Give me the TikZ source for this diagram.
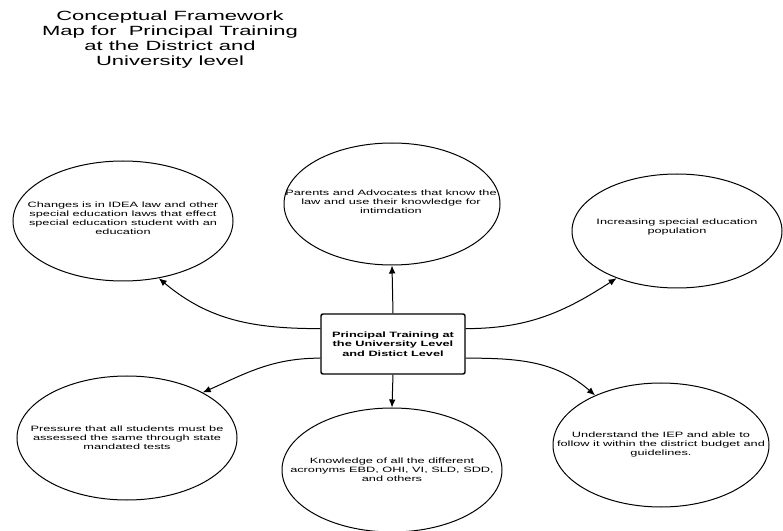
\documentclass[tikz,border=0pt]{standalone}
\usepackage{fontspec}
\setmainfont[FakeStretch=1.65]{Liberation Sans}
\usetikzlibrary{arrows.meta,shapes.geometric,calc}
\tikzset{
  bubble/.style={
    ellipse,
    draw=black,
    line width=0.75pt,
    fill=white,
    inner sep=0pt
  },
  bubbletext/.style={
    align=center,
    inner sep=0pt,
    font=\fontsize{5.8}{6.75}\selectfont
  },
  hubbox/.style={
    rectangle,
    rounded corners=1.5pt,
    draw=black,
    line width=1.1pt,
    fill=white,
    minimum width=108pt,
    minimum height=45pt,
    align=center,
    font=\fontsize{5.8}{7.1}\selectfont\bfseries
  },
  titletext/.style={
    align=center,
    inner sep=0pt,
    font=\fontsize{10}{11.25}\selectfont
  },
  flow/.style={-{Latex[length=6pt,width=5pt]}, line width=0.75pt, black}
}

\begin{document}
\begin{tikzpicture}[x=0.75pt,y=0.75pt]
\useasboundingbox (0,0) rectangle (783,-531);
\node[titletext] (title) at (170,-40) {Conceptual Framework\\Map for\ \ Principal Training\\at the District and\\University level};
\node[hubbox] (hub) at (393,-344) {Principal Training at\\the University Level\\and Distict Level};
\node[bubble, minimum width=165pt, minimum height=90pt] (e1) at (123,-221) {};
\node[bubble, minimum width=162pt, minimum height=91.5pt] (e2) at (392,-204) {};
\node[bubble, minimum width=157.5pt, minimum height=85.5pt] (e3) at (677,-231) {};
\node[bubble, minimum width=165pt, minimum height=93pt] (e5) at (127,-438) {};
\node[bubble, minimum width=165pt, minimum height=93pt] (e6) at (392,-470) {};
\node[bubble, minimum width=162pt, minimum height=93pt] (e7) at (661,-445) {};
\node[bubbletext] (e1t) at (123,-218) {Changes is in IDEA law and other\\special education laws that effect\\special education student with an\\education};
\node[bubbletext] (e2t) at (391,-202) {Parents and Advocates that know the\\law and use their knowledge for\\intimdation};
\node[bubbletext] (e3t) at (677,-227) {Increasing special education\\population};
\node[bubbletext] (e5t) at (127,-438) {Pressure that all students must be\\assessed the same through state\\mandated tests};
\node[bubbletext] (e6t) at (392,-470) {Knowledge of all the different\\acronyms EBD, OHI, VI, SLD, SDD,\\and others};
\node[bubbletext] (e7t) at (661,-445) {Understand the IEP and able to\\follow it within the district budget and\\guidelines.};
\coordinate (hubw1) at ($(hub.north west)!0.25!(hub.south west)$);
\coordinate (hubw2) at ($(hub.north west)!0.73!(hub.south west)$);
\coordinate (hube1) at ($(hub.north east)!0.25!(hub.south east)$);
\coordinate (hube2) at ($(hub.north east)!0.73!(hub.south east)$);
\draw[flow] (hub.north) -- (e2.south);
\draw[flow] (hub.south) -- (e6.north);
\draw[flow] (hubw1) to[out=180,in=-40] (e1.-58);
\draw[flow] (hube1) to[out=0,in=-147] (e3.-142);
\draw[flow] (hubw2) to[out=180,in=24] (e5.31);
\draw[flow] (hube2) to[out=0,in=139] (e7.143);
\end{tikzpicture}
\end{document}
